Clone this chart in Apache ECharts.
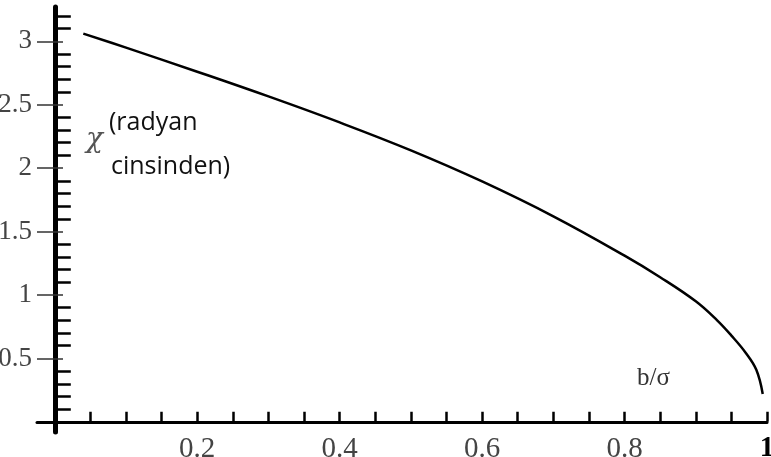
<!DOCTYPE html>
<html>
<head>
<meta charset="utf-8">
<script src="https://cdn.jsdelivr.net/npm/echarts@6/dist/echarts.min.js"></script>
<style>
  html, body { margin: 0; padding: 0; background: #fff; }
  #chart { width: 771px; height: 457px; }
</style>
</head>
<body>
<div id="chart"></div>
<script>
// b/sigma values and the scattering angle chi (radians)
var bValues = [0.04, 0.1, 0.2, 0.3, 0.4, 0.5, 0.6, 0.7, 0.8, 0.85, 0.9, 0.93, 0.95, 0.97, 0.985, 0.994];
var chiValues = [3.06, 2.95, 2.76, 2.565, 2.36, 2.14, 1.895, 1.62, 1.31, 1.14, 0.95, 0.80, 0.68, 0.545, 0.41, 0.22];

var xTicks = [0.05, 0.1, 0.15, 0.2, 0.25, 0.3, 0.35, 0.4, 0.45, 0.5, 0.55, 0.6, 0.65, 0.7, 0.75, 0.8, 0.85, 0.9, 0.95, 1];
var xLabels = [0.2, 0.4, 0.6, 0.8, 1];
var yMinorTicks = [0.1, 0.2, 0.3, 0.4, 0.6, 0.7, 0.8, 0.9, 1.1, 1.2, 1.3, 1.4, 1.6, 1.7, 1.8, 1.9,
  2.1, 2.2, 2.3, 2.4, 2.6, 2.7, 2.8, 2.9, 3.1, 3.2];
var yLabels = [0.5, 1, 1.5, 2, 2.5, 3];

var points = bValues.map(function (b, i) { return [b, chiValues[i]]; });

var chart = echarts.init(document.getElementById('chart'));
var serif = 'Liberation Serif';

option = {
  animation: false,
  backgroundColor: '#fff',
  grid: { left: 37, right: 4, top: 7, bottom: 25, containLabel: false, outerBoundsMode: 'none' },
  xAxis: {
    type: 'value',
    min: -0.025,
    max: 1,
    splitLine: { show: false },
    axisLine: { onZero: true, lineStyle: { color: '#000', width: 3 } },
    axisTick: { inside: true, length: 10, customValues: xTicks, lineStyle: { color: '#000', width: 2.5 } },
    axisLabel: {
      customValues: xLabels,
      margin: 5,
      lineHeight: 24,
      fontFamily: serif,
      fontSize: 29,
      color: '#444',
      formatter: function (v) { return v === 1 ? '{b|1}' : String(v); },
      rich: { b: { fontFamily: serif, fontSize: 29, lineHeight: 24, fontWeight: 'bold', color: '#000' } }
    }
  },
  yAxis: [
    {
      type: 'value',
      min: -0.08,
      max: 3.27,
      splitLine: { show: false },
      axisLine: { onZero: true, lineStyle: { color: '#000', width: 5 } },
      axisTick: { inside: true, length: 16, customValues: yMinorTicks, lineStyle: { color: '#000', width: 2.5 } },
      axisLabel: {
        customValues: yLabels,
        margin: 5,
        fontFamily: serif,
        fontSize: 27,
        color: '#444'
      }
    },
    {
      type: 'value',
      position: 'left',
      min: -0.08,
      max: 3.27,
      splitLine: { show: false },
      axisLine: { show: false, onZero: true },
      axisTick: { inside: true, length: 26, customValues: yLabels, lineStyle: { color: '#333', width: 1.5 } },
      axisLabel: { show: false }
    }
  ],
  graphic: [
    { type: 'text', left: 86, top: 126, style: { text: 'χ', font: 'italic 28px "DejaVu Serif"', fill: '#555' } },
    { type: 'text', left: 109, top: 110, style: { text: '(radyan', font: '25px "Open Sans"', fill: '#111' } },
    { type: 'text', left: 111, top: 154, style: { text: 'cinsinden)', font: '25px "Open Sans"', fill: '#111' } },
    { type: 'text', left: 637, top: 366, style: { text: 'b/σ', font: '25px "Liberation Serif"', fill: '#333' } }
  ],
  series: [
    {
      type: 'line',
      data: points,
      smooth: 0.4,
      showSymbol: false,
      lineStyle: { color: '#000', width: 2.5 }
    }
  ]
};

chart.setOption(option);
</script>
</body>
</html>
